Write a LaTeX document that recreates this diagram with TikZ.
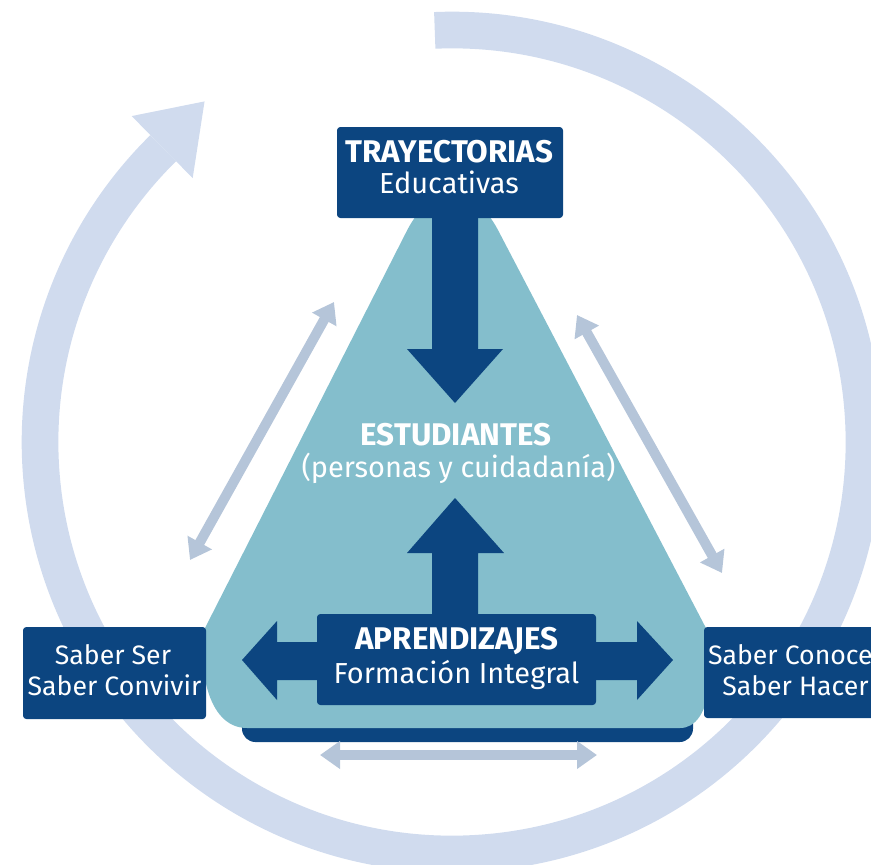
\documentclass[tikz,border=0pt]{standalone}
\usepackage{fontspec}
\setmainfont{Fira Sans}
\usetikzlibrary{arrows.meta,calc}
\definecolor{navy}{HTML}{0C4580}
\definecolor{tealfill}{HTML}{84BECC}
\definecolor{ringcol}{HTML}{D0DBEE}
\definecolor{lightarrowcol}{HTML}{B5C5D9}
\begin{document}
\begin{tikzpicture}[x=0.75pt,y=-0.75pt,
  navybox/.style={fill=navy, rounded corners=2.5pt, inner sep=0pt},
  txt/.style={text=white, inner sep=0pt, anchor=base},
  boldtxt/.style={txt, font=\fontsize{23.5}{23.5}\selectfont\bfseries},
  regtxt/.style={txt, font=\fontsize{21.7}{21.7}\selectfont},
  sabertxt/.style={txt, font=\fontsize{20}{20}\selectfont},
  lightarrow/.style={draw=lightarrowcol, line width=7.5pt,
    {Triangle[length=15pt,width=20pt]}-{Triangle[length=15pt,width=20pt]}},
  bigarrow/.style={fill=navy}
]
\useasboundingbox (0,0) rectangle (871,864);
\clip (0,0) rectangle (871,864);

% ring arrow
\begin{scope}[shift={(452,442)}]
  \draw[ringcol, line width=27.5pt] (-92.4:412) arc[start angle=-92.4, end angle=225.5, radius=412];
  \fill[ringcol] (225.5:457) -- (234:421) -- (225.5:370) -- cycle;
\end{scope}

% triangle with bottom shadow
\fill[navy, rounded corners=10pt] (242,705) rectangle (693,742);
\fill[tealfill] (205,628) [rounded corners=75pt] -- (452,142) [sharp corners] -- (707,630)
  .. controls (715,665) and (712,728) .. (680,728) -- (247,728)
  .. controls (205,728) and (198,660) .. (205,628) -- cycle;

% light double arrows
\coordinate (la1) at (190,560); \coordinate (la2) at (334,302);
\coordinate (ra1) at (577,315); \coordinate (ra2) at (722,573);
\coordinate (ba1) at (320,755); \coordinate (ba2) at (597,755);
\draw[lightarrow] (la1) -- (la2);
\draw[lightarrow] (ra1) -- (ra2);
\draw[lightarrow] (ba1) -- (ba2);

% boxes
\node[navybox, minimum width=169.5pt, minimum height=68.25pt] (tray) at (450,172.5) {};
\node[navybox, minimum width=137.25pt, minimum height=69pt] (ser) at (114.5,673) {};
\node[navybox, minimum width=137.25pt, minimum height=68.25pt] (con) at (795.5,672.5) {};

% big arrows
\fill[bigarrow] (432,216) -- (478,216) -- (478,349) -- (503,349) -- (455,403) -- (407,349) -- (432,349) -- cycle;
\fill[bigarrow] (432,616) -- (432,553) -- (407,553) -- (455,498) -- (504,553) -- (478,553) -- (478,616) -- cycle;
\fill[bigarrow] (242,660) -- (277,621) -- (277,642) -- (637,642) -- (637,621) -- (673,660) -- (637,700) -- (637,680) -- (277,680) -- (277,700) -- cycle;
\node[navybox, minimum width=209.25pt, minimum height=68.25pt] (apre) at (456.5,659.5) {};

% texts
\node[boldtxt] (t1) at (449.5,162) {TRAYECTORIAS};
\node[regtxt] (t2) at (449,193) {Educativas};
\node[boldtxt] (e1) at (456,445) {ESTUDIANTES};
\node[regtxt] (e2) at (458.5,477) {(personas y cuidadanía)};
\node[boldtxt] (a1) at (457,649) {APRENDIZAJES};
\node[regtxt] (a2) at (456.5,683) {Formación Integral};
\node[sabertxt] (s1) at (113,664) {Saber Ser};
\node[sabertxt] (s2) at (114.5,695) {Saber Convivir};
\node[sabertxt] (c1) at (795.5,664) {Saber Conocer};
\node[sabertxt] (c2) at (795.5,695) {Saber Hacer};
\end{tikzpicture}
\end{document}
